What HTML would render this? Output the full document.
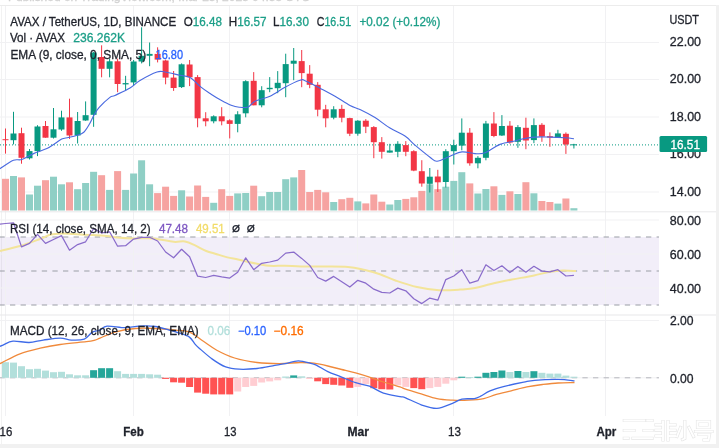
<!DOCTYPE html>
<html><head><meta charset="utf-8"><style>
html,body{margin:0;padding:0;background:#fff;}
body{width:719px;height:448px;overflow:hidden;position:relative;}
svg{position:absolute;left:0;top:0;display:block;filter:blur(0.35px);}
text{font-family:"Liberation Sans", sans-serif;}
</style></head><body>
<svg width="719" height="448" viewBox="0 0 719 448">
<rect x="0" y="0" width="719" height="448" fill="#fff"/>
<rect x="0" y="5" width="719" height="1" fill="#ececec"/>
<rect x="716" y="5" width="3" height="443" fill="#f1f1f1"/>
<rect x="1" y="6" width="1" height="438" fill="#f2f2f2"/>
<rect x="0" y="444" width="719" height="4" fill="#f1f1f1"/>
<rect x="0" y="237" width="659" height="68" fill="#7E57C2" fill-opacity="0.1"/>
<rect x="0" y="42.0" width="659" height="1" fill="#f1f1f3"/>
<rect x="0" y="79.0" width="659" height="1" fill="#f1f1f3"/>
<rect x="0" y="116.5" width="659" height="1" fill="#f1f1f3"/>
<rect x="0" y="154.0" width="659" height="1" fill="#f1f1f3"/>
<rect x="0" y="191.5" width="659" height="1" fill="#f1f1f3"/>
<rect x="0" y="219.5" width="659" height="1" fill="#f1f1f3"/>
<rect x="0" y="253.5" width="659" height="1" fill="#f1f1f3"/>
<rect x="0" y="287.5" width="659" height="1" fill="#f1f1f3"/>
<rect x="0" y="320.0" width="659" height="1" fill="#f1f1f3"/>
<rect x="0" y="377.3" width="659" height="1" fill="#f1f1f3"/>
<rect x="5.0" y="6" width="1" height="410" fill="#f1f1f3"/>
<rect x="133.0" y="6" width="1" height="410" fill="#f1f1f3"/>
<rect x="229.0" y="6" width="1" height="410" fill="#f1f1f3"/>
<rect x="357.0" y="6" width="1" height="410" fill="#f1f1f3"/>
<rect x="453.0" y="6" width="1" height="410" fill="#f1f1f3"/>
<rect x="605.0" y="6" width="1" height="410" fill="#f1f1f3"/>
<rect x="0" y="211.3" width="716" height="1" fill="#e8e8ea"/>
<rect x="0" y="314.5" width="716" height="1" fill="#e8e8ea"/>
<line x1="0" y1="237" x2="659" y2="237" stroke="#9A9DA6" stroke-width="1.05" stroke-dasharray="5.3,5.3" stroke-dashoffset="0.6"/>
<line x1="0" y1="271" x2="659" y2="271" stroke="#9A9DA6" stroke-width="1.05" stroke-dasharray="5.3,5.3" stroke-dashoffset="0.6"/>
<line x1="0" y1="305" x2="659" y2="305" stroke="#9A9DA6" stroke-width="1.05" stroke-dasharray="5.3,5.3" stroke-dashoffset="0.6"/>
<line x1="0" y1="377.8" x2="659" y2="377.8" stroke="#787B86" stroke-opacity="0.5" stroke-width="1" stroke-dasharray="5.3,5.3" stroke-dashoffset="0.6"/>
<rect x="2.0" y="178.8" width="7" height="31.7" fill="#f6a3a1"/>
<rect x="10.0" y="176.0" width="7" height="34.5" fill="#8fcfc5"/>
<rect x="18.0" y="177.4" width="7" height="33.1" fill="#f6a3a1"/>
<rect x="26.0" y="194.5" width="7" height="16.0" fill="#8fcfc5"/>
<rect x="34.0" y="185.7" width="7" height="24.8" fill="#8fcfc5"/>
<rect x="42.0" y="180.2" width="7" height="30.3" fill="#f6a3a1"/>
<rect x="50.0" y="176.7" width="7" height="33.8" fill="#8fcfc5"/>
<rect x="58.0" y="184.3" width="7" height="26.2" fill="#8fcfc5"/>
<rect x="66.0" y="182.3" width="7" height="28.2" fill="#f6a3a1"/>
<rect x="74.1" y="189.2" width="7" height="21.3" fill="#8fcfc5"/>
<rect x="82.1" y="183.0" width="7" height="27.5" fill="#8fcfc5"/>
<rect x="90.1" y="171.8" width="7" height="38.7" fill="#8fcfc5"/>
<rect x="98.1" y="175.2" width="7" height="35.3" fill="#f6a3a1"/>
<rect x="106.1" y="189.9" width="7" height="20.6" fill="#8fcfc5"/>
<rect x="114.1" y="171.1" width="7" height="39.4" fill="#f6a3a1"/>
<rect x="122.1" y="189.9" width="7" height="20.6" fill="#8fcfc5"/>
<rect x="130.1" y="173.5" width="7" height="37.0" fill="#8fcfc5"/>
<rect x="138.1" y="160.3" width="7" height="50.2" fill="#8fcfc5"/>
<rect x="146.1" y="184.3" width="7" height="26.2" fill="#8fcfc5"/>
<rect x="154.1" y="193.1" width="7" height="17.4" fill="#f6a3a1"/>
<rect x="162.1" y="186.7" width="7" height="23.8" fill="#f6a3a1"/>
<rect x="170.1" y="195.9" width="7" height="14.6" fill="#f6a3a1"/>
<rect x="178.1" y="190.3" width="7" height="20.2" fill="#8fcfc5"/>
<rect x="186.1" y="196.5" width="7" height="14.0" fill="#f6a3a1"/>
<rect x="194.1" y="185.5" width="7" height="25.0" fill="#f6a3a1"/>
<rect x="202.2" y="196.9" width="7" height="13.6" fill="#f6a3a1"/>
<rect x="210.2" y="202.8" width="7" height="7.7" fill="#8fcfc5"/>
<rect x="218.2" y="189.2" width="7" height="21.3" fill="#f6a3a1"/>
<rect x="226.2" y="195.9" width="7" height="14.6" fill="#f6a3a1"/>
<rect x="234.2" y="193.4" width="7" height="17.1" fill="#8fcfc5"/>
<rect x="242.2" y="193.0" width="7" height="17.5" fill="#8fcfc5"/>
<rect x="250.2" y="185.7" width="7" height="24.8" fill="#f6a3a1"/>
<rect x="258.2" y="196.2" width="7" height="14.3" fill="#8fcfc5"/>
<rect x="266.2" y="192.0" width="7" height="18.5" fill="#8fcfc5"/>
<rect x="274.2" y="192.0" width="7" height="18.5" fill="#8fcfc5"/>
<rect x="282.2" y="179.2" width="7" height="31.3" fill="#8fcfc5"/>
<rect x="290.2" y="177.4" width="7" height="33.1" fill="#8fcfc5"/>
<rect x="298.2" y="170.0" width="7" height="40.5" fill="#f6a3a1"/>
<rect x="306.2" y="192.0" width="7" height="18.5" fill="#f6a3a1"/>
<rect x="314.2" y="189.9" width="7" height="20.6" fill="#f6a3a1"/>
<rect x="322.2" y="192.3" width="7" height="18.2" fill="#f6a3a1"/>
<rect x="330.2" y="202.0" width="7" height="8.5" fill="#8fcfc5"/>
<rect x="338.3" y="199.2" width="7" height="11.3" fill="#f6a3a1"/>
<rect x="346.3" y="197.8" width="7" height="12.7" fill="#f6a3a1"/>
<rect x="354.3" y="201.4" width="7" height="9.1" fill="#8fcfc5"/>
<rect x="362.3" y="203.4" width="7" height="7.1" fill="#f6a3a1"/>
<rect x="370.3" y="194.5" width="7" height="16.0" fill="#f6a3a1"/>
<rect x="378.3" y="201.7" width="7" height="8.8" fill="#f6a3a1"/>
<rect x="386.3" y="204.5" width="7" height="6.0" fill="#8fcfc5"/>
<rect x="394.3" y="200.0" width="7" height="10.5" fill="#8fcfc5"/>
<rect x="402.3" y="198.9" width="7" height="11.6" fill="#f6a3a1"/>
<rect x="410.3" y="197.3" width="7" height="13.2" fill="#f6a3a1"/>
<rect x="418.3" y="190.9" width="7" height="19.6" fill="#f6a3a1"/>
<rect x="426.3" y="184.3" width="7" height="26.2" fill="#8fcfc5"/>
<rect x="434.3" y="189.2" width="7" height="21.3" fill="#f6a3a1"/>
<rect x="442.3" y="186.7" width="7" height="23.8" fill="#8fcfc5"/>
<rect x="450.3" y="180.9" width="7" height="29.6" fill="#8fcfc5"/>
<rect x="458.3" y="172.2" width="7" height="38.3" fill="#8fcfc5"/>
<rect x="466.3" y="183.4" width="7" height="27.1" fill="#f6a3a1"/>
<rect x="474.4" y="193.5" width="7" height="17.0" fill="#8fcfc5"/>
<rect x="482.4" y="189.0" width="7" height="21.5" fill="#8fcfc5"/>
<rect x="490.4" y="186.3" width="7" height="24.2" fill="#f6a3a1"/>
<rect x="498.4" y="194.9" width="7" height="15.6" fill="#8fcfc5"/>
<rect x="506.4" y="191.3" width="7" height="19.2" fill="#f6a3a1"/>
<rect x="514.4" y="194.0" width="7" height="16.5" fill="#8fcfc5"/>
<rect x="522.4" y="182.2" width="7" height="28.3" fill="#f6a3a1"/>
<rect x="530.4" y="193.3" width="7" height="17.2" fill="#8fcfc5"/>
<rect x="538.4" y="201.0" width="7" height="9.5" fill="#f6a3a1"/>
<rect x="546.4" y="202.0" width="7" height="8.5" fill="#f6a3a1"/>
<rect x="554.4" y="203.6" width="7" height="6.9" fill="#8fcfc5"/>
<rect x="562.4" y="198.5" width="7" height="12.0" fill="#f6a3a1"/>
<rect x="570.4" y="208.2" width="7" height="2.3" fill="#8fcfc5"/>
<line x1="0" y1="144.9" x2="659" y2="144.9" stroke="#089981" stroke-width="1" stroke-dasharray="1,2"/>
<rect x="5.0" y="128.5" width="1" height="25.1" fill="#F23645"/>
<rect x="2.5" y="139.2" width="6" height="1.0" fill="#F23645"/>
<rect x="13.0" y="111.8" width="1" height="32.6" fill="#089981"/>
<rect x="10.5" y="133.5" width="6" height="6.7" fill="#089981"/>
<rect x="21.0" y="127.7" width="1" height="36.0" fill="#F23645"/>
<rect x="18.5" y="133.2" width="6" height="24.6" fill="#F23645"/>
<rect x="29.0" y="149.0" width="1" height="10.5" fill="#089981"/>
<rect x="26.5" y="151.1" width="6" height="7.2" fill="#089981"/>
<rect x="37.0" y="125.2" width="1" height="30.9" fill="#089981"/>
<rect x="34.5" y="126.5" width="6" height="24.6" fill="#089981"/>
<rect x="45.0" y="121.0" width="1" height="16.7" fill="#F23645"/>
<rect x="42.5" y="126.0" width="6" height="11.7" fill="#F23645"/>
<rect x="53.0" y="108.0" width="1" height="30.5" fill="#089981"/>
<rect x="50.5" y="129.3" width="6" height="8.4" fill="#089981"/>
<rect x="61.0" y="110.7" width="1" height="20.1" fill="#089981"/>
<rect x="58.5" y="117.4" width="6" height="12.1" fill="#089981"/>
<rect x="69.0" y="98.7" width="1" height="40.2" fill="#F23645"/>
<rect x="66.5" y="117.4" width="6" height="18.1" fill="#F23645"/>
<rect x="77.1" y="112.0" width="1" height="31.5" fill="#089981"/>
<rect x="74.6" y="121.0" width="6" height="14.5" fill="#089981"/>
<rect x="85.1" y="101.4" width="1" height="19.4" fill="#089981"/>
<rect x="82.6" y="115.2" width="6" height="5.3" fill="#089981"/>
<rect x="93.1" y="52.0" width="1" height="74.8" fill="#089981"/>
<rect x="90.6" y="52.5" width="6" height="62.3" fill="#089981"/>
<rect x="101.1" y="45.3" width="1" height="32.0" fill="#F23645"/>
<rect x="98.6" y="57.0" width="6" height="11.8" fill="#F23645"/>
<rect x="109.1" y="58.6" width="1" height="18.7" fill="#089981"/>
<rect x="106.6" y="61.3" width="6" height="7.5" fill="#089981"/>
<rect x="117.1" y="58.6" width="1" height="33.6" fill="#F23645"/>
<rect x="114.6" y="61.3" width="6" height="22.7" fill="#F23645"/>
<rect x="125.1" y="75.8" width="1" height="14.8" fill="#089981"/>
<rect x="122.6" y="83.1" width="6" height="1.3" fill="#089981"/>
<rect x="133.1" y="60.0" width="1" height="26.0" fill="#089981"/>
<rect x="130.6" y="61.5" width="6" height="20.9" fill="#089981"/>
<rect x="141.1" y="27.3" width="1" height="36.1" fill="#089981"/>
<rect x="138.6" y="55.8" width="6" height="5.7" fill="#089981"/>
<rect x="149.1" y="42.5" width="1" height="23.7" fill="#089981"/>
<rect x="146.6" y="53.9" width="6" height="1.9" fill="#089981"/>
<rect x="157.1" y="47.3" width="1" height="15.1" fill="#F23645"/>
<rect x="154.6" y="53.9" width="6" height="5.7" fill="#F23645"/>
<rect x="165.1" y="59.6" width="1" height="24.7" fill="#F23645"/>
<rect x="162.6" y="60.5" width="6" height="17.1" fill="#F23645"/>
<rect x="173.1" y="71.0" width="1" height="19.9" fill="#F23645"/>
<rect x="170.6" y="77.6" width="6" height="10.4" fill="#F23645"/>
<rect x="181.1" y="63.4" width="1" height="24.6" fill="#089981"/>
<rect x="178.6" y="64.3" width="6" height="22.8" fill="#089981"/>
<rect x="189.1" y="60.0" width="1" height="26.1" fill="#F23645"/>
<rect x="186.6" y="64.5" width="6" height="12.8" fill="#F23645"/>
<rect x="197.1" y="75.1" width="1" height="52.2" fill="#F23645"/>
<rect x="194.6" y="77.1" width="6" height="41.2" fill="#F23645"/>
<rect x="205.2" y="112.2" width="1" height="14.1" fill="#F23645"/>
<rect x="202.7" y="118.3" width="6" height="3.0" fill="#F23645"/>
<rect x="213.2" y="115.3" width="1" height="8.0" fill="#089981"/>
<rect x="210.7" y="116.3" width="6" height="5.0" fill="#089981"/>
<rect x="221.2" y="107.2" width="1" height="18.1" fill="#F23645"/>
<rect x="218.7" y="116.3" width="6" height="5.0" fill="#F23645"/>
<rect x="229.2" y="119.3" width="1" height="19.1" fill="#F23645"/>
<rect x="226.7" y="120.3" width="6" height="3.6" fill="#F23645"/>
<rect x="237.2" y="111.2" width="1" height="21.1" fill="#089981"/>
<rect x="234.7" y="114.3" width="6" height="9.6" fill="#089981"/>
<rect x="245.2" y="80.2" width="1" height="37.1" fill="#089981"/>
<rect x="242.7" y="81.2" width="6" height="32.1" fill="#089981"/>
<rect x="253.2" y="72.1" width="1" height="33.2" fill="#F23645"/>
<rect x="250.7" y="80.8" width="6" height="24.5" fill="#F23645"/>
<rect x="261.2" y="86.2" width="1" height="21.1" fill="#089981"/>
<rect x="258.7" y="90.2" width="6" height="15.1" fill="#089981"/>
<rect x="269.2" y="77.1" width="1" height="15.1" fill="#089981"/>
<rect x="266.7" y="87.8" width="6" height="1.4" fill="#089981"/>
<rect x="277.2" y="71.1" width="1" height="22.1" fill="#089981"/>
<rect x="274.7" y="82.8" width="6" height="5.4" fill="#089981"/>
<rect x="285.2" y="53.7" width="1" height="43.5" fill="#089981"/>
<rect x="282.7" y="64.1" width="6" height="19.1" fill="#089981"/>
<rect x="293.2" y="48.0" width="1" height="32.2" fill="#089981"/>
<rect x="290.7" y="60.7" width="6" height="3.0" fill="#089981"/>
<rect x="301.2" y="50.0" width="1" height="37.2" fill="#F23645"/>
<rect x="298.7" y="61.1" width="6" height="12.0" fill="#F23645"/>
<rect x="309.2" y="65.1" width="1" height="23.1" fill="#F23645"/>
<rect x="306.7" y="73.7" width="6" height="11.1" fill="#F23645"/>
<rect x="317.2" y="82.1" width="1" height="34.2" fill="#F23645"/>
<rect x="314.7" y="84.8" width="6" height="24.9" fill="#F23645"/>
<rect x="325.2" y="104.8" width="1" height="22.5" fill="#F23645"/>
<rect x="322.7" y="109.3" width="6" height="9.0" fill="#F23645"/>
<rect x="333.2" y="106.2" width="1" height="13.1" fill="#089981"/>
<rect x="330.7" y="109.3" width="6" height="8.4" fill="#089981"/>
<rect x="341.3" y="104.8" width="1" height="17.5" fill="#F23645"/>
<rect x="338.8" y="108.9" width="6" height="8.8" fill="#F23645"/>
<rect x="349.3" y="117.7" width="1" height="18.4" fill="#F23645"/>
<rect x="346.8" y="118.1" width="6" height="15.6" fill="#F23645"/>
<rect x="357.3" y="120.1" width="1" height="15.6" fill="#089981"/>
<rect x="354.8" y="120.7" width="6" height="13.0" fill="#089981"/>
<rect x="365.3" y="119.1" width="1" height="14.0" fill="#F23645"/>
<rect x="362.8" y="120.7" width="6" height="6.0" fill="#F23645"/>
<rect x="373.3" y="126.1" width="1" height="32.1" fill="#F23645"/>
<rect x="370.8" y="127.1" width="6" height="15.1" fill="#F23645"/>
<rect x="381.3" y="137.1" width="1" height="21.5" fill="#F23645"/>
<rect x="378.8" y="142.2" width="6" height="9.6" fill="#F23645"/>
<rect x="389.3" y="143.8" width="1" height="8.8" fill="#089981"/>
<rect x="386.8" y="150.5" width="6" height="2.1" fill="#089981"/>
<rect x="397.3" y="141.2" width="1" height="16.0" fill="#089981"/>
<rect x="394.8" y="143.8" width="6" height="8.0" fill="#089981"/>
<rect x="405.3" y="141.1" width="1" height="15.1" fill="#F23645"/>
<rect x="402.8" y="145.1" width="6" height="6.7" fill="#F23645"/>
<rect x="413.3" y="150.2" width="1" height="21.0" fill="#F23645"/>
<rect x="410.8" y="151.2" width="6" height="19.4" fill="#F23645"/>
<rect x="421.3" y="160.2" width="1" height="26.5" fill="#F23645"/>
<rect x="418.8" y="171.2" width="6" height="12.3" fill="#F23645"/>
<rect x="429.3" y="168.0" width="1" height="24.5" fill="#089981"/>
<rect x="426.8" y="176.7" width="6" height="7.1" fill="#089981"/>
<rect x="437.3" y="169.8" width="1" height="22.2" fill="#F23645"/>
<rect x="434.8" y="176.5" width="6" height="5.8" fill="#F23645"/>
<rect x="445.3" y="149.2" width="1" height="38.3" fill="#089981"/>
<rect x="442.8" y="151.2" width="6" height="30.8" fill="#089981"/>
<rect x="453.3" y="139.7" width="1" height="24.8" fill="#089981"/>
<rect x="450.8" y="145.1" width="6" height="6.1" fill="#089981"/>
<rect x="461.3" y="118.4" width="1" height="31.9" fill="#089981"/>
<rect x="458.8" y="132.7" width="6" height="12.9" fill="#089981"/>
<rect x="469.3" y="128.1" width="1" height="37.6" fill="#F23645"/>
<rect x="466.8" y="132.7" width="6" height="30.6" fill="#F23645"/>
<rect x="477.4" y="156.1" width="1" height="12.2" fill="#089981"/>
<rect x="474.9" y="157.8" width="6" height="5.5" fill="#089981"/>
<rect x="485.4" y="120.9" width="1" height="39.4" fill="#089981"/>
<rect x="482.9" y="123.5" width="6" height="34.3" fill="#089981"/>
<rect x="493.4" y="112.1" width="1" height="25.1" fill="#F23645"/>
<rect x="490.9" y="123.5" width="6" height="12.5" fill="#F23645"/>
<rect x="501.4" y="115.1" width="1" height="20.9" fill="#089981"/>
<rect x="498.9" y="126.0" width="6" height="9.5" fill="#089981"/>
<rect x="509.4" y="121.1" width="1" height="22.7" fill="#F23645"/>
<rect x="506.9" y="125.7" width="6" height="16.8" fill="#F23645"/>
<rect x="517.4" y="125.1" width="1" height="22.7" fill="#089981"/>
<rect x="514.9" y="127.1" width="6" height="14.7" fill="#089981"/>
<rect x="525.4" y="117.7" width="1" height="31.5" fill="#F23645"/>
<rect x="522.9" y="127.8" width="6" height="12.7" fill="#F23645"/>
<rect x="533.4" y="118.4" width="1" height="24.8" fill="#089981"/>
<rect x="530.9" y="125.1" width="6" height="15.0" fill="#089981"/>
<rect x="541.4" y="123.1" width="1" height="18.7" fill="#F23645"/>
<rect x="538.9" y="124.8" width="6" height="11.7" fill="#F23645"/>
<rect x="549.4" y="132.4" width="1" height="14.4" fill="#F23645"/>
<rect x="546.9" y="136.2" width="6" height="1.3" fill="#F23645"/>
<rect x="557.4" y="129.8" width="1" height="8.0" fill="#089981"/>
<rect x="554.9" y="133.4" width="6" height="4.4" fill="#089981"/>
<rect x="565.4" y="132.4" width="1" height="21.5" fill="#F23645"/>
<rect x="562.9" y="133.8" width="6" height="10.7" fill="#F23645"/>
<rect x="573.4" y="143.8" width="1" height="4.7" fill="#089981"/>
<rect x="570.9" y="144.3" width="6" height="1.0" fill="#089981"/>
<path d="M0.0,168.7 C2.2,167.3 9.8,161.8 13.4,160.3 C17.0,158.8 18.4,160.6 21.8,159.5 C25.2,158.4 29.3,155.4 33.5,153.6 C37.7,151.8 43.3,150.3 46.9,148.6 C50.5,146.9 52.5,145.1 55.0,143.5 C57.5,141.9 59.5,139.9 61.7,138.9 C63.9,137.9 66.0,138.1 68.4,137.5 C70.9,136.9 73.8,136.4 76.4,135.5 C79.0,134.6 81.6,134.2 83.8,132.2 C86.0,130.2 88.1,126.3 89.8,123.5 C91.5,120.7 92.2,118.1 93.8,115.4 C95.4,112.7 96.5,110.4 99.2,107.4 C101.9,104.4 107.3,99.4 109.9,97.4 C112.5,95.4 111.7,97.0 115.0,95.4 C118.3,93.8 125.8,90.5 130.0,88.0 C134.2,85.5 135.5,83.2 140.0,80.5 C144.5,77.8 152.8,73.4 157.0,72.0 C161.2,70.6 161.2,71.5 165.0,72.0 C168.8,72.5 175.8,74.4 180.0,75.3 C184.2,76.2 186.5,75.6 190.0,77.6 C193.5,79.6 197.5,84.3 201.0,87.1 C204.5,89.9 207.8,92.0 211.1,94.2 C214.4,96.4 217.8,98.4 221.1,100.2 C224.4,102.0 228.2,104.0 231.2,105.2 C234.2,106.4 236.4,106.9 239.2,107.2 C242.0,107.5 245.4,108.0 248.0,107.0 C250.6,106.0 251.3,103.0 255.0,101.2 C258.7,99.4 265.0,98.5 270.0,96.2 C275.0,93.9 280.0,89.9 285.0,87.2 C290.0,84.5 296.7,81.3 300.0,80.2 C303.3,79.1 301.7,79.4 305.0,80.7 C308.3,82.0 315.0,85.6 320.0,88.2 C325.0,90.8 330.0,93.3 335.0,96.2 C340.0,99.1 345.8,103.3 350.0,105.5 C354.2,107.7 355.8,107.5 360.0,109.5 C364.2,111.5 370.0,114.5 375.0,117.6 C380.0,120.7 385.0,125.0 390.0,128.1 C395.0,131.2 400.8,133.3 405.0,136.1 C409.2,138.9 410.8,141.6 415.0,145.1 C419.2,148.6 426.3,154.5 430.0,157.2 C433.7,159.9 433.7,161.4 437.0,161.2 C440.3,161.0 445.8,157.8 450.0,156.2 C454.2,154.6 457.8,152.3 462.0,151.9 C466.2,151.5 471.2,153.4 475.0,153.6 C478.8,153.8 480.8,154.3 485.0,152.8 C489.2,151.3 495.0,146.4 500.0,144.4 C505.0,142.4 511.7,141.8 515.0,141.0 C518.3,140.2 516.7,140.2 520.0,139.5 C523.3,138.8 530.0,137.5 535.0,137.1 C540.0,136.7 545.0,137.0 550.0,137.1 C555.0,137.2 561.0,137.5 565.0,137.8 C569.0,138.1 572.5,138.6 574.0,138.8" fill="none" stroke="#4A6AE0" stroke-width="1.15" stroke-linejoin="round"/>
<path d="M0.0,251.0 C3.3,250.2 13.3,248.0 20.0,246.0 C26.7,244.0 34.8,240.9 40.0,239.0 C45.2,237.1 47.3,235.4 51.0,234.5 C54.7,233.6 58.3,233.5 62.0,233.4 C65.7,233.3 68.7,233.7 73.4,234.0 C78.1,234.3 84.5,234.7 90.0,235.0 C95.5,235.3 101.7,235.6 106.7,236.1 C111.7,236.6 115.5,237.4 120.0,237.8 C124.5,238.2 127.8,238.3 133.4,238.4 C139.0,238.5 146.8,237.8 153.5,238.4 C160.2,239.0 168.3,241.3 173.6,241.8 C178.8,242.3 181.3,240.8 185.0,241.5 C188.7,242.2 192.1,244.1 195.6,245.7 C199.1,247.3 202.7,249.6 206.2,251.0 C209.7,252.4 213.3,253.1 216.8,254.2 C220.3,255.3 223.9,256.5 227.4,257.4 C230.9,258.3 234.5,258.7 238.0,259.5 C241.5,260.3 245.1,261.2 248.6,262.0 C252.1,262.8 255.7,263.6 259.2,264.2 C262.7,264.8 265.4,265.5 269.7,265.8 C274.0,266.1 279.8,265.7 285.0,265.8 C290.2,265.9 294.8,266.4 301.0,266.5 C307.2,266.6 314.2,266.4 322.0,266.5 C329.8,266.6 340.8,266.3 348.0,266.9 C355.2,267.5 359.7,268.9 365.0,270.1 C370.3,271.3 374.8,272.5 380.0,274.3 C385.2,276.1 389.8,278.6 396.0,280.7 C402.2,282.8 409.8,285.4 417.0,287.0 C424.2,288.6 431.8,289.8 439.0,290.2 C446.2,290.6 454.0,290.0 460.0,289.6 C466.0,289.2 469.8,289.1 475.0,288.1 C480.2,287.2 484.8,285.3 491.0,283.9 C497.2,282.5 504.8,281.0 512.0,279.6 C519.2,278.2 527.7,276.7 534.0,275.4 C540.3,274.1 545.2,272.6 550.0,271.8 C554.8,271.0 558.7,270.6 563.0,270.5 C567.3,270.4 573.8,271.0 576.0,271.1" fill="none" stroke="#F3E49A" stroke-width="2" stroke-linejoin="round"/>
<polyline points="-2.5,224.5 5.5,223.5 13.5,222.8 21.5,246.9 29.5,243.4 37.5,234.3 45.5,243.4 53.5,239.5 61.5,235.6 69.5,250.2 77.6,244.6 85.6,241.8 93.6,228.5 101.6,232.9 109.6,231.8 117.6,246.2 125.6,245.7 133.6,239.1 141.6,237.3 149.6,237.3 157.6,241.0 165.6,252.0 173.6,257.8 181.6,249.3 189.6,256.8 197.6,276.2 205.7,277.5 213.7,275.4 221.7,276.9 229.7,278.1 237.7,272.2 245.7,257.8 253.7,269.7 261.7,263.3 269.7,262.0 277.7,260.1 285.7,253.1 293.7,252.1 301.7,258.4 309.7,265.4 317.7,277.5 325.7,281.1 333.7,276.4 341.8,281.7 349.8,287.0 357.8,280.3 365.8,283.2 373.8,289.2 381.8,292.3 389.8,293.0 397.8,288.1 405.8,290.8 413.8,298.7 421.8,303.6 429.8,298.1 437.8,300.2 445.8,279.6 453.8,276.0 461.8,269.7 469.8,283.2 477.9,280.7 485.9,264.8 493.9,270.5 501.9,265.8 509.9,272.6 517.9,266.5 525.9,272.2 533.9,266.3 541.9,271.1 549.9,271.8 557.9,269.7 565.9,276.0 573.9,275.4" fill="none" stroke="#8A6CCB" stroke-width="1.25" stroke-linejoin="round"/>
<rect x="2.0" y="362.2" width="7" height="15.6" fill="#B2DFDB"/>
<rect x="10.0" y="362.6" width="7" height="15.2" fill="#B2DFDB"/>
<rect x="18.0" y="366.2" width="7" height="11.6" fill="#B2DFDB"/>
<rect x="26.0" y="369.2" width="7" height="8.6" fill="#B2DFDB"/>
<rect x="34.0" y="368.8" width="7" height="9.0" fill="#B2DFDB"/>
<rect x="42.0" y="370.6" width="7" height="7.2" fill="#B2DFDB"/>
<rect x="50.0" y="372.2" width="7" height="5.6" fill="#B2DFDB"/>
<rect x="58.0" y="371.8" width="7" height="6.0" fill="#B2DFDB"/>
<rect x="66.0" y="374.3" width="7" height="3.5" fill="#B2DFDB"/>
<rect x="74.1" y="375.3" width="7" height="2.5" fill="#B2DFDB"/>
<rect x="82.1" y="375.3" width="7" height="2.5" fill="#B2DFDB"/>
<rect x="90.1" y="370.2" width="7" height="7.6" fill="#26A69A"/>
<rect x="98.1" y="368.2" width="7" height="9.6" fill="#26A69A"/>
<rect x="106.1" y="368.2" width="7" height="9.6" fill="#26A69A"/>
<rect x="114.1" y="371.2" width="7" height="6.6" fill="#B2DFDB"/>
<rect x="122.1" y="373.9" width="7" height="3.9" fill="#B2DFDB"/>
<rect x="130.1" y="373.9" width="7" height="3.9" fill="#B2DFDB"/>
<rect x="138.1" y="373.9" width="7" height="3.9" fill="#B2DFDB"/>
<rect x="146.1" y="374.3" width="7" height="3.5" fill="#B2DFDB"/>
<rect x="154.1" y="374.7" width="7" height="3.1" fill="#B2DFDB"/>
<rect x="162.1" y="377.8" width="7" height="1.1" fill="#FF5252"/>
<rect x="170.1" y="377.8" width="7" height="4.5" fill="#FF5252"/>
<rect x="178.1" y="377.8" width="7" height="4.9" fill="#FF5252"/>
<rect x="186.1" y="377.8" width="7" height="9.2" fill="#FF5252"/>
<rect x="194.1" y="377.8" width="7" height="14.8" fill="#FF5252"/>
<rect x="202.2" y="377.8" width="7" height="15.9" fill="#FF5252"/>
<rect x="210.2" y="377.8" width="7" height="16.6" fill="#FF5252"/>
<rect x="218.2" y="377.8" width="7" height="16.6" fill="#FF5252"/>
<rect x="226.2" y="377.8" width="7" height="16.6" fill="#FF5252"/>
<rect x="234.2" y="377.8" width="7" height="13.7" fill="#FFCDD2"/>
<rect x="242.2" y="377.8" width="7" height="9.2" fill="#FFCDD2"/>
<rect x="250.2" y="377.8" width="7" height="8.1" fill="#FFCDD2"/>
<rect x="258.2" y="377.8" width="7" height="4.7" fill="#FFCDD2"/>
<rect x="266.2" y="377.8" width="7" height="3.6" fill="#FFCDD2"/>
<rect x="274.2" y="377.8" width="7" height="2.5" fill="#FFCDD2"/>
<rect x="282.2" y="376.5" width="7" height="1.3" fill="#B2DFDB"/>
<rect x="290.2" y="375.4" width="7" height="2.4" fill="#26A69A"/>
<rect x="298.2" y="376.3" width="7" height="1.5" fill="#B2DFDB"/>
<rect x="306.2" y="377.8" width="7" height="1.2" fill="#FFCDD2"/>
<rect x="314.2" y="377.8" width="7" height="3.5" fill="#FF5252"/>
<rect x="322.2" y="377.8" width="7" height="6.3" fill="#FF5252"/>
<rect x="330.2" y="377.8" width="7" height="7.0" fill="#FF5252"/>
<rect x="338.3" y="377.8" width="7" height="7.7" fill="#FF5252"/>
<rect x="346.3" y="377.8" width="7" height="10.0" fill="#FF5252"/>
<rect x="354.3" y="377.8" width="7" height="9.1" fill="#FFCDD2"/>
<rect x="362.3" y="377.8" width="7" height="6.3" fill="#FFCDD2"/>
<rect x="370.3" y="377.8" width="7" height="10.4" fill="#FF5252"/>
<rect x="378.3" y="377.8" width="7" height="11.4" fill="#FF5252"/>
<rect x="386.3" y="377.8" width="7" height="11.7" fill="#FF5252"/>
<rect x="394.3" y="377.8" width="7" height="7.5" fill="#FFCDD2"/>
<rect x="402.3" y="377.8" width="7" height="9.1" fill="#FFCDD2"/>
<rect x="410.3" y="377.8" width="7" height="10.3" fill="#FF5252"/>
<rect x="418.3" y="377.8" width="7" height="11.4" fill="#FF5252"/>
<rect x="426.3" y="377.8" width="7" height="10.3" fill="#FFCDD2"/>
<rect x="434.3" y="377.8" width="7" height="9.1" fill="#FFCDD2"/>
<rect x="442.3" y="377.8" width="7" height="5.9" fill="#FFCDD2"/>
<rect x="450.3" y="377.8" width="7" height="2.5" fill="#FFCDD2"/>
<rect x="458.3" y="376.7" width="7" height="1.1" fill="#26A69A"/>
<rect x="466.3" y="377.0" width="7" height="0.8" fill="#B2DFDB"/>
<rect x="474.4" y="376.7" width="7" height="1.1" fill="#26A69A"/>
<rect x="482.4" y="372.8" width="7" height="5.0" fill="#26A69A"/>
<rect x="490.4" y="372.0" width="7" height="5.8" fill="#26A69A"/>
<rect x="498.4" y="370.5" width="7" height="7.3" fill="#26A69A"/>
<rect x="506.4" y="372.0" width="7" height="5.8" fill="#B2DFDB"/>
<rect x="514.4" y="371.0" width="7" height="6.8" fill="#26A69A"/>
<rect x="522.4" y="372.0" width="7" height="5.8" fill="#B2DFDB"/>
<rect x="530.4" y="371.2" width="7" height="6.6" fill="#26A69A"/>
<rect x="538.4" y="372.8" width="7" height="5.0" fill="#B2DFDB"/>
<rect x="546.4" y="373.6" width="7" height="4.2" fill="#B2DFDB"/>
<rect x="554.4" y="373.6" width="7" height="4.2" fill="#B2DFDB"/>
<rect x="562.4" y="375.6" width="7" height="2.2" fill="#B2DFDB"/>
<rect x="570.4" y="376.7" width="7" height="1.1" fill="#B2DFDB"/>
<path d="M-1.0,364.0 C-0.5,363.8 -1.5,364.3 2.0,362.6 C5.5,360.9 13.6,356.2 20.0,353.8 C26.4,351.4 33.5,349.8 40.2,348.2 C46.9,346.6 52.5,345.6 60.2,344.5 C67.9,343.4 80.5,342.4 86.3,341.7 C92.1,341.0 92.7,340.7 95.0,340.1 C97.3,339.5 96.7,339.4 100.0,338.1 C103.3,336.8 109.1,333.7 115.0,332.1 C120.9,330.5 128.5,329.1 135.2,328.5 C141.9,327.9 148.5,328.2 155.2,328.5 C161.9,328.8 169.5,329.5 175.3,330.1 C181.1,330.7 185.3,330.4 190.0,332.3 C194.7,334.2 198.9,338.3 203.4,341.3 C207.9,344.3 211.6,347.4 216.8,350.2 C222.0,353.0 227.9,355.9 234.6,358.0 C241.3,360.1 249.6,361.6 257.0,362.5 C264.4,363.4 272.1,363.6 279.3,363.6 C286.5,363.6 294.2,362.6 300.0,362.5 C305.8,362.4 309.3,362.6 313.9,363.2 C318.5,363.8 323.2,364.9 327.8,366.0 C332.4,367.1 337.1,368.4 341.7,369.5 C346.3,370.6 351.0,371.6 355.6,372.9 C360.2,374.2 364.9,375.6 369.5,377.1 C374.1,378.6 378.3,380.4 383.4,382.0 C388.5,383.6 396.3,385.7 400.0,386.9 C403.7,388.1 402.1,388.0 405.6,389.2 C409.1,390.4 416.0,392.3 421.2,393.9 C426.5,395.5 431.7,397.6 436.9,398.6 C442.1,399.7 447.3,399.9 452.5,400.2 C457.7,400.5 462.9,400.5 468.1,400.2 C473.3,399.9 479.2,399.5 483.8,398.6 C488.3,397.7 491.0,396.0 495.6,394.7 C500.2,393.4 506.0,392.1 511.2,390.8 C516.5,389.5 521.7,387.9 526.9,386.9 C532.1,385.8 537.3,385.1 542.5,384.5 C547.7,383.9 552.8,383.3 558.1,383.0 C563.4,382.7 571.8,382.6 574.5,382.5" fill="none" stroke="#F08A3C" stroke-width="1.3" stroke-linejoin="round"/>
<path d="M-1.0,346.5 C-0.3,346.3 0.7,346.0 3.0,345.1 C5.3,344.2 8.6,341.5 13.0,341.1 C17.4,340.7 24.1,342.7 29.1,342.5 C34.1,342.3 38.0,340.8 43.2,340.1 C48.4,339.4 55.5,338.1 60.2,338.1 C64.9,338.1 67.3,339.9 71.3,340.1 C75.3,340.3 80.8,340.4 84.3,339.1 C87.8,337.8 89.8,333.6 92.4,332.1 C95.0,330.6 97.6,331.1 100.0,330.1 C102.4,329.1 102.8,326.5 107.0,326.1 C111.2,325.7 119.7,327.7 125.1,327.7 C130.5,327.7 134.2,326.3 139.2,326.1 C144.2,325.9 150.2,325.8 155.2,326.5 C160.2,327.2 165.3,329.0 169.3,330.1 C173.3,331.2 176.0,331.9 179.3,333.1 C182.7,334.3 186.8,335.3 189.4,337.1 C192.0,338.9 193.4,342.3 195.0,344.1 C196.6,345.9 196.0,345.4 198.9,347.9 C201.8,350.4 207.8,355.9 212.3,359.1 C216.8,362.3 221.2,365.2 225.7,366.9 C230.2,368.6 233.9,368.9 239.1,369.2 C244.3,369.5 251.1,369.1 257.0,368.5 C262.9,367.9 270.1,366.2 274.8,365.4 C279.5,364.6 281.1,364.4 285.0,363.6 C288.9,362.9 293.9,360.9 298.4,360.9 C302.9,360.9 308.8,362.9 311.8,363.6 C314.9,364.3 314.0,364.0 316.7,365.3 C319.4,366.6 323.6,369.6 327.8,371.6 C332.0,373.6 337.1,375.2 341.7,377.1 C346.3,379.0 351.0,381.2 355.6,382.7 C360.2,384.2 364.9,384.5 369.5,386.2 C374.1,387.9 378.3,391.4 383.4,393.1 C388.5,394.8 396.3,395.8 400.0,396.6 C403.7,397.4 402.1,396.4 405.6,397.8 C409.1,399.2 416.0,403.0 421.2,404.8 C426.5,406.6 431.7,408.6 436.9,408.4 C442.1,408.1 448.3,404.9 452.5,403.3 C456.7,401.8 458.2,399.9 461.9,399.1 C465.5,398.3 471.3,399.1 474.4,398.6 C477.5,398.1 478.0,397.6 480.6,396.2 C483.2,394.9 486.2,392.4 490.0,390.8 C493.8,389.2 497.8,388.0 503.4,386.6 C509.0,385.2 518.5,383.2 523.8,382.2 C529.0,381.1 529.0,380.8 534.7,380.3 C540.4,379.8 551.5,379.3 558.1,379.4 C564.7,379.5 571.8,380.6 574.5,380.9" fill="none" stroke="#3F6BE8" stroke-width="1.3" stroke-linejoin="round"/>
<path d="M624.3,420.5 H644.4 M647.2,420.5 H652 M624.3,430.5 H634 M644,430.5 H652 M624.3,438.3 H628 M633,438.3 H652 M663,421.5 V440 M668,421.5 V440 M656,424.8 H662 M656,430.3 H662 M656,436 H662 M669,424.8 H675 M669,430.3 H675 M669,436 H675 M684.8,421.5 V438.5 L682.5,439.5 M680.5,427.5 L677,436.5 M689,427.5 L693.5,436.5 M697.5,421.5 H709.5 V427.5 H697.5 Z M695.5,431.5 H712 M699,434.5 H709.5 L708.5,440 H704" fill="none" stroke="#e6e6e6" stroke-width="3.2" stroke-linecap="square"/>
<path d="M624.3,420.5 H644.4 M647.2,420.5 H652 M624.3,430.5 H634 M644,430.5 H652 M624.3,438.3 H628 M633,438.3 H652 M663,421.5 V440 M668,421.5 V440 M656,424.8 H662 M656,430.3 H662 M656,436 H662 M669,424.8 H675 M669,430.3 H675 M669,436 H675 M684.8,421.5 V438.5 L682.5,439.5 M680.5,427.5 L677,436.5 M689,427.5 L693.5,436.5 M697.5,421.5 H709.5 V427.5 H697.5 Z M695.5,431.5 H712 M699,434.5 H709.5 L708.5,440 H704" fill="none" stroke="#ffffff" stroke-width="1.9" stroke-linecap="square"/>
<g>
<text x="8.0" y="0.8" fill="#d2d2d2" stroke="#d2d2d2" stroke-width="0.3" font-size="11" font-weight="normal" textLength="302.0" lengthAdjust="spacingAndGlyphs">Published on TradingView.com, Mar 28, 2023 04:35 UTC</text>
<text x="10.3" y="26.0" fill="#1f222b" stroke="#1f222b" stroke-width="0.3" font-size="12" font-weight="normal" textLength="165.8" lengthAdjust="spacingAndGlyphs">AVAX / TetherUS, 1D, BINANCE</text>
<text x="183.8" y="26.0" font-size="12" textLength="38.2" lengthAdjust="spacingAndGlyphs"><tspan fill="#1f222b" stroke="#1f222b" stroke-width="0.3">O</tspan><tspan fill="#1c9f88" stroke="#1c9f88" stroke-width="0.3">16.48</tspan></text>
<text x="228.8" y="26.0" font-size="12" textLength="37.6" lengthAdjust="spacingAndGlyphs"><tspan fill="#1f222b" stroke="#1f222b" stroke-width="0.3">H</tspan><tspan fill="#1c9f88" stroke="#1c9f88" stroke-width="0.3">16.57</tspan></text>
<text x="273.1" y="26.0" font-size="12" textLength="35.8" lengthAdjust="spacingAndGlyphs"><tspan fill="#1f222b" stroke="#1f222b" stroke-width="0.3">L</tspan><tspan fill="#1c9f88" stroke="#1c9f88" stroke-width="0.3">16.30</tspan></text>
<text x="316.7" y="26.0" font-size="12" textLength="34.4" lengthAdjust="spacingAndGlyphs"><tspan fill="#1f222b" stroke="#1f222b" stroke-width="0.3">C</tspan><tspan fill="#1c9f88" stroke="#1c9f88" stroke-width="0.3">16.51</tspan></text>
<text x="359.5" y="26.0" fill="#1c9f88" stroke="#1c9f88" stroke-width="0.3" font-size="12" font-weight="normal" textLength="80.8" lengthAdjust="spacingAndGlyphs">+0.02 (+0.12%)</text>
<text x="9.9" y="42.3" fill="#1f222b" stroke="#1f222b" stroke-width="0.3" font-size="12" font-weight="normal" textLength="55.2" lengthAdjust="spacingAndGlyphs">Vol · AVAX</text>
<text x="73.2" y="42.3" fill="#1c9f88" stroke="#1c9f88" stroke-width="0.3" font-size="12" font-weight="normal" textLength="51.9" lengthAdjust="spacingAndGlyphs">236.262K</text>
<text x="10.4" y="58.5" fill="#1f222b" stroke="#1f222b" stroke-width="0.3" font-size="12" font-weight="normal" textLength="135.7" lengthAdjust="spacingAndGlyphs">EMA (9, close, 0, SMA, 5)</text>
<text x="155.6" y="58.5" fill="#2962FF" stroke="#2962FF" stroke-width="0.3" font-size="12" font-weight="normal" textLength="27.4" lengthAdjust="spacingAndGlyphs">16.80</text>
<text x="9.9" y="232.5" fill="#1f222b" stroke="#1f222b" stroke-width="0.3" font-size="12" font-weight="normal" textLength="140.8" lengthAdjust="spacingAndGlyphs">RSI (14, close, SMA, 14, 2)</text>
<text x="158.9" y="232.5" fill="#7E57C2" stroke="#7E57C2" stroke-width="0.3" font-size="12" font-weight="normal" textLength="29.2" lengthAdjust="spacingAndGlyphs">47.48</text>
<text x="195.9" y="232.5" fill="#F2DC6A" stroke="#F2DC6A" stroke-width="0.3" font-size="12" font-weight="normal" textLength="28.8" lengthAdjust="spacingAndGlyphs">49.51</text>
<g fill="none" stroke="#2a2e39" stroke-width="1.3"><circle cx="236" cy="228.6" r="3"/><line x1="232.6" y1="232.4" x2="239.4" y2="224.8"/></g>
<g fill="none" stroke="#2a2e39" stroke-width="1.3"><circle cx="250.8" cy="228.6" r="3"/><line x1="247.4" y1="232.4" x2="254.2" y2="224.8"/></g>
<text x="10.0" y="334.6" fill="#1f222b" stroke="#1f222b" stroke-width="0.3" font-size="12" font-weight="normal" textLength="188.6" lengthAdjust="spacingAndGlyphs">MACD (12, 26, close, 9, EMA, EMA)</text>
<text x="207.5" y="334.6" fill="#B2DFDB" stroke="#B2DFDB" stroke-width="0.3" font-size="12" font-weight="normal" textLength="22.7" lengthAdjust="spacingAndGlyphs">0.06</text>
<text x="238.0" y="334.6" fill="#2962FF" stroke="#2962FF" stroke-width="0.3" font-size="12" font-weight="normal" textLength="28.3" lengthAdjust="spacingAndGlyphs">−0.10</text>
<text x="273.6" y="334.6" fill="#FF6D00" stroke="#FF6D00" stroke-width="0.3" font-size="12" font-weight="normal" textLength="30.1" lengthAdjust="spacingAndGlyphs">−0.16</text>
<text x="669.4" y="23.5" fill="#1f222b" stroke="#1f222b" stroke-width="0.3" font-size="12" font-weight="normal" textLength="29.6" lengthAdjust="spacingAndGlyphs">USDT</text>
<text x="669.8" y="46.2" fill="#1f222b" stroke="#1f222b" stroke-width="0.3" font-size="12" font-weight="normal" textLength="31.2" lengthAdjust="spacingAndGlyphs">22.00</text>
<text x="669.8" y="83.4" fill="#1f222b" stroke="#1f222b" stroke-width="0.3" font-size="12" font-weight="normal" textLength="31.2" lengthAdjust="spacingAndGlyphs">20.00</text>
<text x="669.8" y="121.2" fill="#1f222b" stroke="#1f222b" stroke-width="0.3" font-size="12" font-weight="normal" textLength="31.2" lengthAdjust="spacingAndGlyphs">18.00</text>
<text x="669.8" y="158.4" fill="#1f222b" stroke="#1f222b" stroke-width="0.3" font-size="12" font-weight="normal" textLength="31.2" lengthAdjust="spacingAndGlyphs">16.00</text>
<text x="669.8" y="195.9" fill="#1f222b" stroke="#1f222b" stroke-width="0.3" font-size="12" font-weight="normal" textLength="31.2" lengthAdjust="spacingAndGlyphs">14.00</text>
<text x="669.8" y="224.5" fill="#1f222b" stroke="#1f222b" stroke-width="0.3" font-size="12" font-weight="normal" textLength="31.2" lengthAdjust="spacingAndGlyphs">80.00</text>
<text x="669.8" y="258.5" fill="#1f222b" stroke="#1f222b" stroke-width="0.3" font-size="12" font-weight="normal" textLength="31.2" lengthAdjust="spacingAndGlyphs">60.00</text>
<text x="669.8" y="292.5" fill="#1f222b" stroke="#1f222b" stroke-width="0.3" font-size="12" font-weight="normal" textLength="31.2" lengthAdjust="spacingAndGlyphs">40.00</text>
<text x="670.0" y="325.1" fill="#1f222b" stroke="#1f222b" stroke-width="0.3" font-size="12" font-weight="normal" textLength="23.6" lengthAdjust="spacingAndGlyphs">2.00</text>
<text x="670.0" y="382.7" fill="#1f222b" stroke="#1f222b" stroke-width="0.3" font-size="12" font-weight="normal" textLength="23.6" lengthAdjust="spacingAndGlyphs">0.00</text>
<rect x="659.5" y="136" width="47.6" height="16.1" rx="1.5" fill="#089981"/>
<text x="670.6" y="148.7" fill="#ffffff" stroke="#ffffff" stroke-width="0.3" font-size="12" font-weight="normal" textLength="29.3" lengthAdjust="spacingAndGlyphs">16.51</text>
<text x="-0.5" y="436.2" fill="#1f222b" stroke="#1f222b" stroke-width="0.3" font-size="12" font-weight="normal" textLength="12.8" lengthAdjust="spacingAndGlyphs">16</text>
<text x="123.3" y="436.2" fill="#1f222b" stroke="#1f222b" stroke-width="0.3" font-size="12" font-weight="bold" textLength="20.5" lengthAdjust="spacingAndGlyphs">Feb</text>
<text x="224.0" y="436.2" fill="#1f222b" stroke="#1f222b" stroke-width="0.3" font-size="12" font-weight="normal" textLength="12.5" lengthAdjust="spacingAndGlyphs">13</text>
<text x="347.5" y="436.2" fill="#1f222b" stroke="#1f222b" stroke-width="0.3" font-size="12" font-weight="bold" textLength="21.5" lengthAdjust="spacingAndGlyphs">Mar</text>
<text x="448.1" y="436.2" fill="#1f222b" stroke="#1f222b" stroke-width="0.3" font-size="12" font-weight="normal" textLength="12.9" lengthAdjust="spacingAndGlyphs">13</text>
<text x="596.4" y="436.2" fill="#1f222b" stroke="#1f222b" stroke-width="0.3" font-size="12" font-weight="bold" textLength="19.8" lengthAdjust="spacingAndGlyphs">Apr</text>
</g>
</svg>
</body></html>
